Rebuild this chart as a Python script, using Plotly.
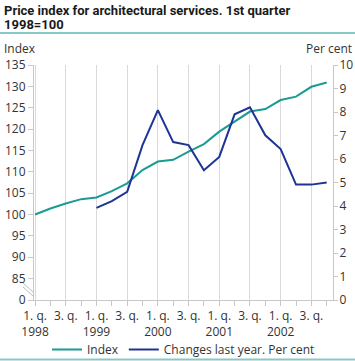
import plotly.graph_objects as go

quarters = ["1998Q1","1998Q2","1998Q3","1998Q4","1999Q1","1999Q2","1999Q3","1999Q4",
            "2000Q1","2000Q2","2000Q3","2000Q4","2001Q1","2001Q2","2001Q3","2001Q4",
            "2002Q1","2002Q2","2002Q3","2002Q4"]
index_values = [100.0, 101.4, 102.6, 103.6, 104.0, 105.5, 107.3, 110.4, 112.4, 112.8,
                114.7, 116.5, 119.4, 121.7, 124.1, 124.7, 126.8, 127.6, 129.9, 130.9]
change_values = [None, None, None, None, 3.92, 4.21, 4.6, 6.59, 8.08, 6.72,
                 6.59, 5.52, 6.09, 7.9, 8.2, 7.01, 6.42, 4.91, 4.91, 5.0]
tick_labels = ["1. q.<br>1998", "3. q.", "1. q.<br>1999", "3. q.", "1. q.<br>2000", "3. q.",
               "1. q.<br>2001", "3. q.", "1. q.<br>2002", "3. q."]
left_ticks = [80, 85, 90, 95, 100, 105, 110, 115, 120, 125, 130, 135]
left_text = ["0"] + [str(v) for v in left_ticks[1:]]
right_ticks = list(range(0, 11))

TEAL = "#1a9b93"
NAVY = "#1e3494"
FONT = "Open Sans"
AXC = "#c8c8c8"

x = list(range(len(quarters)))

fig = go.Figure()
fig.add_trace(go.Scatter(x=x, y=index_values, mode="lines", name="Index",
                         line=dict(color=TEAL, width=2), yaxis="y"))
fig.add_trace(go.Scatter(x=x, y=change_values, mode="lines", name="Changes last year. Per cent",
                         line=dict(color=NAVY, width=2), yaxis="y2"))

L, R, T, B = 34, 22, 65, 61
W, H = 355, 361
pw = W - L - R
ph = H - T - B

def px(xp):
    return (xp - L) / pw

def py(yp):
    return (H - B - yp) / ph

shapes = [
    dict(type="line", xref="paper", yref="paper", x0=px(0), x1=px(355), y0=py(33), y1=py(33),
         line=dict(color="#86c9c7", width=2)),
    dict(type="line", xref="paper", yref="paper", x0=px(0), x1=px(355), y0=py(359.5), y1=py(359.5),
         line=dict(color="#86c9c7", width=2)),
    dict(type="line", xref="paper", yref="paper", x0=px(23), x1=px(33), y0=py(283), y1=py(292),
         line=dict(color="#bbbbbb", width=1)),
    dict(type="line", xref="paper", yref="paper", x0=px(23), x1=px(33), y0=py(287), y1=py(296),
         line=dict(color="#bbbbbb", width=1)),
]

fig.update_layout(
    width=W, height=H,
    margin=dict(l=L, r=R, t=T, b=B, autoexpand=False),
    paper_bgcolor="white", plot_bgcolor="white",
    font=dict(family=FONT, size=12, color="#333333"),
    showlegend=True,
    legend=dict(orientation="h", x=0.5, xanchor="center", y=py(335), yanchor="top",
                font=dict(size=12, color="#333333"), tracegroupgap=0,
                bgcolor="rgba(0,0,0,0)"),
    xaxis=dict(range=[-0.07, 19.41], tickvals=list(range(0, 20, 2)), ticktext=tick_labels,
               showgrid=True, gridcolor="#d9d9d9", gridwidth=1,
               ticks="outside", ticklen=5, tickcolor=AXC,
               showline=True, linecolor=AXC, linewidth=1, zeroline=False,
               minor=dict(dtick=1, tick0=0, ticks="outside", ticklen=5, tickcolor=AXC, showgrid=False),
               tickfont=dict(size=12)),
    yaxis=dict(range=[80, 135], tickvals=left_ticks, ticktext=left_text,
               showgrid=False, ticks="outside", ticklen=5, tickcolor=AXC,
               showline=True, linecolor=AXC, zeroline=False, tickfont=dict(size=12)),
    yaxis2=dict(range=[0, 10], tickvals=right_ticks, overlaying="y", side="right",
                showgrid=False, ticks="outside", ticklen=4, tickcolor=AXC,
                showline=True, linecolor=AXC, zeroline=False, tickfont=dict(size=12),
                ticklabelstandoff=-1),
    shapes=shapes,
    annotations=[
        dict(text="<b>Price index for architectural services. 1st quarter</b>",
             xref="paper", yref="paper", x=px(2), y=py(10), xanchor="left", yanchor="middle",
             align="left", showarrow=False, font=dict(size=13, color="#1a1a1a", family="Roboto")),
        dict(text="<b>1998=100</b>",
             xref="paper", yref="paper", x=px(2), y=py(25), xanchor="left", yanchor="middle",
             align="left", showarrow=False, font=dict(size=13, color="#1a1a1a", family="Roboto")),
        dict(text="Index", xref="paper", yref="paper", x=px(2), y=py(48), xanchor="left",
             yanchor="middle", showarrow=False, font=dict(size=12)),
        dict(text="Per cent", xref="paper", yref="paper", x=px(354), y=py(48), xanchor="right",
             yanchor="middle", showarrow=False, font=dict(size=12)),
    ],
)

fig.write_html("out.html", config={"displayModeBar": False},
               post_script="document.body.style.margin='0';document.body.style.overflow='hidden';")
